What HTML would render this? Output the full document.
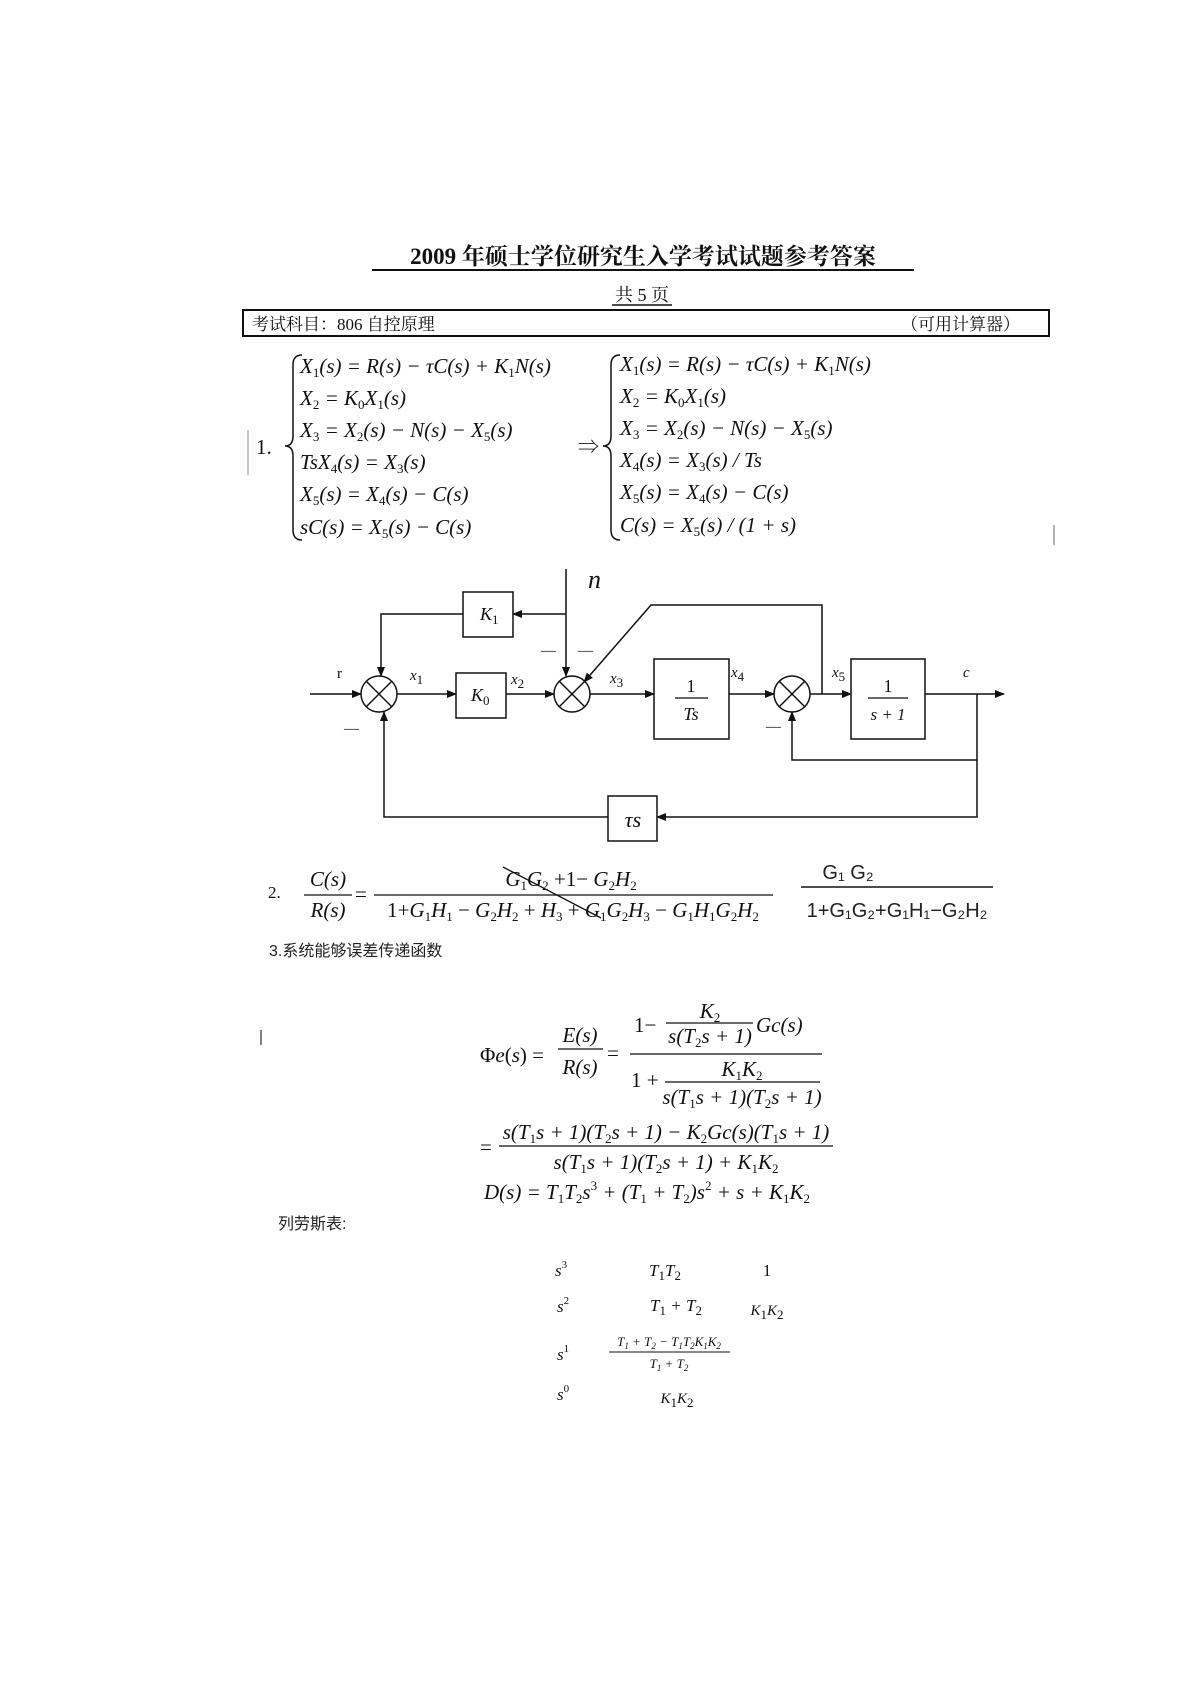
<!DOCTYPE html>
<html><head><meta charset="utf-8"><style>
html,body{margin:0;padding:0;background:#fff;}
svg{display:block}
.m{font-family:"Liberation Serif","Noto Serif CJK SC",serif;fill:#111;}
.i{font-style:italic}
.c{font-family:"Liberation Sans","Noto Sans CJK SC",sans-serif;fill:#222;}
.b{font-family:"Liberation Serif","Noto Serif CJK SC",serif;font-weight:bold;fill:#111}
.s{font-size:13px;baseline-shift:-4px;font-style:normal}
.h{font-family:"Liberation Sans",sans-serif;fill:#222}
</style></head><body>
<svg width="1190" height="1683" viewBox="0 0 1190 1683" xmlns="http://www.w3.org/2000/svg">
<text x="643" y="264" class="b" font-size="23" text-anchor="middle">2009 年硕士学位研究生入学考试试题参考答案</text>
<line x1="372" y1="270" x2="914" y2="270" stroke="#111" stroke-width="2"/>
<text x="642" y="301" class="m" font-size="18" text-anchor="middle">共 5 页</text>
<line x1="612" y1="305" x2="672" y2="305" stroke="#111" stroke-width="1.5"/>
<rect x="243" y="310" width="806" height="26" fill="none" stroke="#111" stroke-width="2"/>
<text x="252" y="330" class="m" font-size="17">考试科目：806  自控原理</text>
<text x="1020" y="330" class="m" font-size="17" text-anchor="end">（可用计算器）</text>

<g class="m" font-size="21">
<text x="256" y="454">1.</text>
<path d="M302 355 Q293 355 293 365 L293 436 Q293 446 285 446 Q293 446 293 456 L293 530 Q293 540 302 540" fill="none" stroke="#111" stroke-width="1.5"/>
<text x="300" y="373" class="i">X<tspan class="s">1</tspan>(s) = R(s) − τC(s) + K<tspan class="s">1</tspan>N(s)</text>
<text x="300" y="405" class="i">X<tspan class="s">2</tspan> = K<tspan class="s">0</tspan>X<tspan class="s">1</tspan>(s)</text>
<text x="300" y="437" class="i">X<tspan class="s">3</tspan> = X<tspan class="s">2</tspan>(s) − N(s) − X<tspan class="s">5</tspan>(s)</text>
<text x="300" y="469" class="i">TsX<tspan class="s">4</tspan>(s) = X<tspan class="s">3</tspan>(s)</text>
<text x="300" y="501" class="i">X<tspan class="s">5</tspan>(s) = X<tspan class="s">4</tspan>(s) − C(s)</text>
<text x="300" y="534" class="i">sC(s) = X<tspan class="s">5</tspan>(s) − C(s)</text>
<text x="578" y="454">⇒</text>
<path d="M620 355 Q611 355 611 365 L611 436 Q611 446 603 446 Q611 446 611 456 L611 530 Q611 540 620 540" fill="none" stroke="#111" stroke-width="1.5"/>
<text x="620" y="371" class="i">X<tspan class="s">1</tspan>(s) = R(s) − τC(s) + K<tspan class="s">1</tspan>N(s)</text>
<text x="620" y="403" class="i">X<tspan class="s">2</tspan> = K<tspan class="s">0</tspan>X<tspan class="s">1</tspan>(s)</text>
<text x="620" y="435" class="i">X<tspan class="s">3</tspan> = X<tspan class="s">2</tspan>(s) − N(s) − X<tspan class="s">5</tspan>(s)</text>
<text x="620" y="467" class="i">X<tspan class="s">4</tspan>(s) = X<tspan class="s">3</tspan>(s) / Ts</text>
<text x="620" y="499" class="i">X<tspan class="s">5</tspan>(s) = X<tspan class="s">4</tspan>(s) − C(s)</text>
<text x="620" y="532" class="i">C(s) = X<tspan class="s">5</tspan>(s) / (1 + s)</text>
</g>

<defs><marker id="a" markerWidth="10" markerHeight="8" refX="9" refY="4" orient="auto" markerUnits="userSpaceOnUse"><path d="M0 0 L10 4 L0 8 z" fill="#111"/></marker></defs>
<g stroke="#111" stroke-width="1.5" fill="none">
<line x1="310" y1="694" x2="361" y2="694" marker-end="url(#a)"/>
<line x1="397" y1="694" x2="456" y2="694" marker-end="url(#a)"/>
<line x1="506" y1="694" x2="554" y2="694" marker-end="url(#a)"/>
<line x1="590" y1="694" x2="654" y2="694" marker-end="url(#a)"/>
<line x1="729" y1="694" x2="774" y2="694" marker-end="url(#a)"/>
<line x1="810" y1="694" x2="851" y2="694" marker-end="url(#a)"/>
<line x1="925" y1="694" x2="1004" y2="694" marker-end="url(#a)"/>
<circle cx="379" cy="694" r="18"/><line x1="366" y1="681" x2="392" y2="707"/><line x1="392" y1="681" x2="366" y2="707"/>
<circle cx="572" cy="694" r="18"/><line x1="559" y1="681" x2="585" y2="707"/><line x1="585" y1="681" x2="559" y2="707"/>
<circle cx="792" cy="694" r="18"/><line x1="779" y1="681" x2="805" y2="707"/><line x1="805" y1="681" x2="779" y2="707"/>
<rect x="463" y="592" width="50" height="45"/>
<rect x="456" y="673" width="50" height="45"/>
<rect x="654" y="659" width="75" height="80"/>
<rect x="851" y="659" width="74" height="80"/>
<rect x="608" y="796" width="49" height="45"/>
<line x1="566" y1="569" x2="566" y2="676" marker-end="url(#a)"/>
<line x1="566" y1="614" x2="513" y2="614" marker-end="url(#a)"/>
<polyline points="463,614 381,614 381,676" marker-end="url(#a)"/>
<polyline points="822,694 822,605 651,605 584,682" marker-end="url(#a)"/>
<polyline points="977,694 977,760 792,760 792,712" marker-end="url(#a)"/>
<polyline points="977,760 977,817 657,817" marker-end="url(#a)"/>
<polyline points="608,817 384,817 384,712" marker-end="url(#a)"/>
</g>
<g class="m" font-size="15">
<text x="588" y="588" class="i" font-size="26">n</text>
<text x="480" y="620" class="i" font-size="18">K<tspan class="s">1</tspan></text>
<text x="471" y="701" class="i" font-size="18">K<tspan class="s">0</tspan></text>
<text x="691" y="692" font-size="18" text-anchor="middle">1</text>
<line x1="675" y1="698" x2="708" y2="698" stroke="#111" stroke-width="1.2"/>
<text x="691" y="720" class="i" font-size="18" text-anchor="middle">Ts</text>
<text x="888" y="692" font-size="18" text-anchor="middle">1</text>
<line x1="868" y1="698" x2="908" y2="698" stroke="#111" stroke-width="1.2"/>
<text x="888" y="720" class="i" font-size="17" text-anchor="middle">s + 1</text>
<text x="633" y="827" class="i" font-size="22" text-anchor="middle">τs</text>
<text x="337" y="678">r</text>
<text x="410" y="680" class="i">x<tspan class="s">1</tspan></text>
<text x="511" y="684" class="i">x<tspan class="s">2</tspan></text>
<text x="610" y="683" class="i">x<tspan class="s">3</tspan></text>
<text x="731" y="677" class="i">x<tspan class="s">4</tspan></text>
<text x="832" y="677" class="i">x<tspan class="s">5</tspan></text>
<text x="963" y="677" class="i">c</text>
<text x="344" y="733">—</text>
<text x="541" y="655">—</text>
<text x="578" y="655">—</text>
<text x="766" y="731">—</text>
</g>

<g class="m" font-size="21">
<text x="268" y="898" font-size="17">2.</text>
<text x="328" y="886" class="i" text-anchor="middle">C(s)</text>
<line x1="304" y1="895" x2="352" y2="895" stroke="#111" stroke-width="1.2"/>
<text x="328" y="917" class="i" text-anchor="middle">R(s)</text>
<text x="355" y="901">=</text>
<line x1="374" y1="895" x2="773" y2="895" stroke="#111" stroke-width="1.2"/>
<text x="571" y="886" text-anchor="middle"><tspan class="i">G</tspan><tspan class="s">1</tspan><tspan class="i">G</tspan><tspan class="s">2</tspan> +1− <tspan class="i">G</tspan><tspan class="s">2</tspan><tspan class="i">H</tspan><tspan class="s">2</tspan></text>
<text x="573" y="917" text-anchor="middle">1+<tspan class="i">G</tspan><tspan class="s">1</tspan><tspan class="i">H</tspan><tspan class="s">1</tspan> − <tspan class="i">G</tspan><tspan class="s">2</tspan><tspan class="i">H</tspan><tspan class="s">2</tspan> + <tspan class="i">H</tspan><tspan class="s">3</tspan> + <tspan class="i">G</tspan><tspan class="s">1</tspan><tspan class="i">G</tspan><tspan class="s">2</tspan><tspan class="i">H</tspan><tspan class="s">3</tspan> − <tspan class="i">G</tspan><tspan class="s">1</tspan><tspan class="i">H</tspan><tspan class="s">1</tspan><tspan class="i">G</tspan><tspan class="s">2</tspan><tspan class="i">H</tspan><tspan class="s">2</tspan></text>
<line x1="503" y1="867" x2="601" y2="918" stroke="#111" stroke-width="1.3"/>
</g>
<g class="h" font-size="20">
<text x="848" y="879" text-anchor="middle">G₁ G₂</text>
<line x1="801" y1="887" x2="993" y2="887" stroke="#111" stroke-width="1.4"/>
<text x="897" y="917" text-anchor="middle">1+G₁G₂+G₁H₁−G₂H₂</text>
</g>
<text x="269" y="956" class="c" font-size="16">3.系统能够误差传递函数</text>

<g class="m" font-size="21">
<text x="480" y="1062"><tspan>Φ</tspan><tspan class="i">e</tspan>(<tspan class="i">s</tspan>) =</text>
<text x="580" y="1042" class="i" text-anchor="middle">E(s)</text>
<line x1="558" y1="1049" x2="603" y2="1049" stroke="#111" stroke-width="1.2"/>
<text x="580" y="1074" class="i" text-anchor="middle">R(s)</text>
<text x="607" y="1060">=</text>
<line x1="630" y1="1054" x2="822" y2="1054" stroke="#111" stroke-width="1.2"/>
<text x="634" y="1032">1−</text>
<text x="710" y="1018" class="i" text-anchor="middle">K<tspan class="s">2</tspan></text>
<line x1="666" y1="1023" x2="753" y2="1023" stroke="#111" stroke-width="1.2"/>
<text x="710" y="1043" class="i" text-anchor="middle">s(T<tspan class="s">2</tspan>s + 1)</text>
<text x="756" y="1032" class="i">Gc(s)</text>
<text x="631" y="1087">1 +</text>
<text x="742" y="1076" class="i" text-anchor="middle">K<tspan class="s">1</tspan>K<tspan class="s">2</tspan></text>
<line x1="665" y1="1082" x2="820" y2="1082" stroke="#111" stroke-width="1.2"/>
<text x="742" y="1104" class="i" text-anchor="middle">s(T<tspan class="s">1</tspan>s + 1)(T<tspan class="s">2</tspan>s + 1)</text>
<text x="480" y="1154">=</text>
<text x="666" y="1139" class="i" text-anchor="middle">s(T<tspan class="s">1</tspan>s + 1)(T<tspan class="s">2</tspan>s + 1) − K<tspan class="s">2</tspan>Gc(s)(T<tspan class="s">1</tspan>s + 1)</text>
<line x1="499" y1="1146" x2="833" y2="1146" stroke="#111" stroke-width="1.2"/>
<text x="666" y="1169" class="i" text-anchor="middle">s(T<tspan class="s">1</tspan>s + 1)(T<tspan class="s">2</tspan>s + 1) + K<tspan class="s">1</tspan>K<tspan class="s">2</tspan></text>
<text x="484" y="1199" class="i">D(s) = T<tspan class="s">1</tspan>T<tspan class="s">2</tspan><tspan>s</tspan><tspan font-size="13" dy="-9" font-style="normal">3</tspan><tspan dy="9"> + (T</tspan><tspan class="s">1</tspan> + T<tspan class="s">2</tspan>)s<tspan font-size="13" dy="-9" font-style="normal">2</tspan><tspan dy="9"> + s + K</tspan><tspan class="s">1</tspan>K<tspan class="s">2</tspan></text>
</g>
<text x="278" y="1229" class="c" font-size="16">列劳斯表:</text>

<g class="m" font-size="17">
<text x="555" y="1276" class="i">s<tspan font-size="11" dy="-8" font-style="normal">3</tspan></text>
<text x="665" y="1276" class="i" text-anchor="middle">T<tspan class="s">1</tspan>T<tspan class="s">2</tspan></text>
<text x="767" y="1276" text-anchor="middle">1</text>
<text x="557" y="1312" class="i">s<tspan font-size="11" dy="-8" font-style="normal">2</tspan></text>
<text x="676" y="1311" class="i" text-anchor="middle">T<tspan class="s">1</tspan> + T<tspan class="s">2</tspan></text>
<text x="767" y="1315" class="i" text-anchor="middle" font-size="15">K<tspan class="s">1</tspan>K<tspan class="s">2</tspan></text>
<text x="557" y="1360" class="i">s<tspan font-size="11" dy="-8" font-style="normal">1</tspan></text>
<text x="669" y="1346" class="i" text-anchor="middle" font-size="13">T<tspan font-size="9" baseline-shift="-3px">1</tspan> + T<tspan font-size="9" baseline-shift="-3px">2</tspan> − T<tspan font-size="9" baseline-shift="-3px">1</tspan>T<tspan font-size="9" baseline-shift="-3px">2</tspan>K<tspan font-size="9" baseline-shift="-3px">1</tspan>K<tspan font-size="9" baseline-shift="-3px">2</tspan></text>
<line x1="609" y1="1352" x2="730" y2="1352" stroke="#111" stroke-width="1"/>
<text x="669" y="1368" class="i" text-anchor="middle" font-size="13">T<tspan font-size="9" baseline-shift="-3px">1</tspan> + T<tspan font-size="9" baseline-shift="-3px">2</tspan></text>
<text x="557" y="1400" class="i">s<tspan font-size="11" dy="-8" font-style="normal">0</tspan></text>
<text x="677" y="1403" class="i" text-anchor="middle" font-size="15">K<tspan class="s">1</tspan>K<tspan class="s">2</tspan></text>
</g>
<line x1="1054" y1="525" x2="1054" y2="545" stroke="#666" stroke-width="1"/>
<line x1="261" y1="1030" x2="261" y2="1045" stroke="#555" stroke-width="1.5"/>
<line x1="248" y1="430" x2="248" y2="475" stroke="#888" stroke-width="1"/>
</svg>
</body></html>
